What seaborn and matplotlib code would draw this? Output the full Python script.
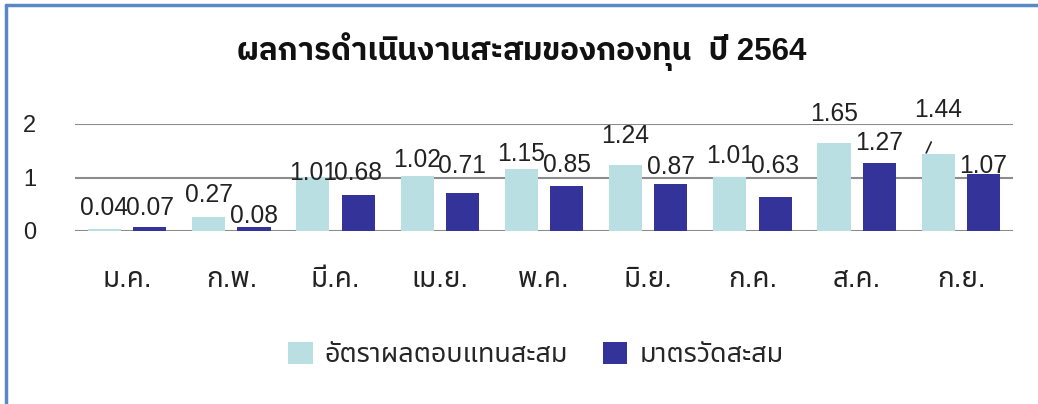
import matplotlib
matplotlib.use("Agg")
import matplotlib.pyplot as plt
from matplotlib.lines import Line2D
from matplotlib.patches import Patch
import seaborn as sns
import pandas as pd

# ---- data ----
months = ["ม.ค.", "ก.พ.", "มี.ค.", "เม.ย.", "พ.ค.", "มิ.ย.", "ก.ค.", "ส.ค.", "ก.ย."]
series_names = ["อัตราผลตอบแทนสะสม", "มาตรวัดสะสม"]
return_cum = [0.04, 0.27, 1.01, 1.02, 1.15, 1.24, 1.01, 1.65, 1.44]
benchmark_cum = [0.07, 0.08, 0.68, 0.71, 0.85, 0.87, 0.63, 1.27, 1.07]
y_ticks = [0, 1, 2]
title_text = "ผลการดำเนินงานสะสมของกองทุน  ปี 2564"

# label vertical offsets (pixels) mimicking the manually placed labels
light_dy = [14, 15, -3, 9, 8, 22, 14, 22, 37]
dark_dy = [12, 4, 15, 20, 14, 10, 24, 13, 1]

colors = ["#B9DFE3", "#343399"]

df = pd.DataFrame({
    "month": months * 2,
    "series": [series_names[0]] * len(months) + [series_names[1]] * len(months),
    "value": return_cum + benchmark_cum,
})

sns.set_theme(style="white")
plt.rcParams["font.family"] = ["Liberation Sans", "Noto Sans Thai"]

W, H = 1038, 404
fig = plt.figure(figsize=(W / 100, H / 100), dpi=100)
ax = fig.add_axes([75 / W, 1 - 231 / H, 938 / W, 107 / H])

sns.barplot(data=df, x="month", y="value", hue="series", order=months,
            hue_order=series_names, palette=colors, width=0.87, gap=0.27,
            saturation=1, edgecolor="none", ax=ax, legend=False)

ax.set_ylim(0, 2)
ax.set_xlim(-0.5, len(months) - 0.5)
ax.set_yticks(y_ticks)
ax.set_yticklabels([str(t) for t in y_ticks])
for t in y_ticks:
    ax.axhline(t, color="#8C8C8C", lw=1.5, zorder=0.5)
ax.set_axisbelow(True)
for s in ax.spines.values():
    s.set_visible(False)
ax.set_xlabel("")
ax.set_ylabel("")
ax.tick_params(axis="y", length=0, pad=28, labelsize=17, labelcolor="#222222")
ax.tick_params(axis="x", length=0, pad=26, labelsize=20, labelcolor="#222222")

# data labels
for cont, vals, dys in zip(ax.containers, [return_cum, benchmark_cum], [light_dy, dark_dy]):
    for patch, v, dy in zip(cont.patches, vals, dys):
        cx = patch.get_x() + patch.get_width() / 2
        ax.annotate(f"{v:.2f}", xy=(cx, patch.get_height()), xytext=(0, dy),
                    textcoords="offset pixels", ha="center", va="baseline",
                    fontsize=17.7, color="#222222", annotation_clip=False)

# leader line for the moved label (last light bar)
p = ax.containers[0].patches[-1]
cx = p.get_x() + p.get_width() / 2
x0, y0 = ax.transData.transform((cx, p.get_height()))
ax.add_line(Line2D([x0 - 12, x0 - 7], [y0 + 1, y0 + 12], transform=None,
                   color="#222222", lw=1.2, clip_on=False))

# title
fig.text(522 / W, 1 - 52 / H, title_text, ha="center", va="center",
         fontsize=22.5, fontweight="bold", color="#111111",
         family=["Liberation Sans", "IBM Plex Sans Thai"])

# legend
handles = [Patch(facecolor=c, edgecolor="none") for c in colors]
fig.legend(handles, series_names, loc="center", bbox_to_anchor=(536 / W, 1 - 355 / H),
           ncol=2, frameon=False, fontsize=19.4, handlelength=0.9, handleheight=0.9,
           handletextpad=0.45, columnspacing=1.3)

# frame lines (top & left)
fig.add_artist(Line2D([6 / W, 1], [1 - 5 / H, 1 - 5 / H], transform=fig.transFigure,
                      color="#5A88C6", lw=2.5))
fig.add_artist(Line2D([6 / W, 6 / W], [0, 1 - 5 / H], transform=fig.transFigure,
                      color="#5A88C6", lw=2.5))

fig.savefig("out.png", dpi=100)
